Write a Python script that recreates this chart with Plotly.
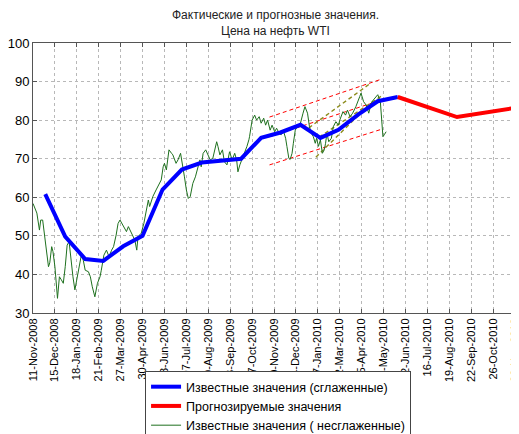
import pandas as pd
import plotly.graph_objects as go

START = pd.Timestamp("2008-11-11")

# --- raw (unsmoothed) WTI prices: days since 11-Nov-2008, price
raw_day = [0, 3, 6, 10, 12, 15, 17, 20, 24, 26, 29, 31, 34, 38, 41, 44, 47, 50, 53, 56, 58, 62, 65, 68,
           72, 75, 78, 81, 86, 89, 92, 96, 100, 104, 106, 110, 114, 118, 122, 125, 129, 132, 135, 140,
           145, 148, 153, 158, 161, 163, 168, 172, 176, 179, 181, 186, 191, 194, 199, 202, 204, 207, 211,
           215, 217, 222, 225, 229, 232, 235, 238, 241, 244, 248, 252, 256, 259, 261, 264, 268, 272, 275,
           279, 285, 287, 290, 294, 297, 301, 305, 309, 313, 316, 318, 321, 325, 328, 332, 335, 336, 340,
           344, 347, 351, 354, 358, 361, 364, 368, 371, 375, 378, 382, 385, 389, 392, 394, 397, 399, 402,
           404, 407, 411, 415, 419, 422, 426, 429, 432, 435, 438, 440, 443, 446, 449, 452, 454, 456, 459,
           463, 466, 470, 474, 476, 481, 485, 488, 492, 496, 501, 507, 509, 513, 517, 521, 525, 528, 532,
           535, 539, 541, 543, 545, 548]
raw_price = [58.4, 57.2, 55.9, 51.5, 54.1, 54.1, 51.5, 48.1, 42.0, 43.0, 47.2, 45.9, 42.0, 33.8, 39.4, 38.6,
             37.7, 42.0, 47.6, 48.5, 45.0, 39.4, 36.0, 38.6, 42.9, 45.0, 43.7, 41.1, 40.7, 39.4, 36.8, 34.2,
             37.7, 39.4, 41.1, 45.0, 46.3, 44.6, 46.3, 47.2, 50.2, 53.2, 54.1, 52.4, 51.1, 52.4, 50.7, 48.9,
             46.3, 49.8, 50.7, 53.2, 56.7, 59.3, 57.6, 60.2, 61.9, 62.8, 64.5, 67.9, 68.8, 67.1, 72.3, 71.4,
             71.0, 68.8, 69.7, 71.4, 68.8, 65.3, 61.9, 59.7, 60.2, 63.6, 65.3, 67.9, 69.7, 67.9, 71.4, 72.3,
             71.0, 69.7, 70.1, 74.4, 73.2, 71.0, 72.3, 69.2, 68.4, 71.8, 69.7, 71.4, 69.7, 66.6, 68.4, 70.1,
             71.0, 73.2, 74.9, 75.7, 80.0, 81.3, 80.0, 80.9, 79.2, 80.5, 78.7, 80.0, 77.4, 78.7, 77.0, 77.9,
             76.6, 76.2, 77.0, 75.3, 73.2, 70.1, 69.8, 71.4, 74.0, 77.4, 78.7, 79.2, 81.8, 83.5, 81.8, 78.3,
             76.6, 75.7, 74.0, 75.3, 73.2, 74.9, 71.4, 72.3, 74.0, 76.6, 74.4, 75.3, 78.3, 79.6, 78.7, 80.0,
             82.2, 81.3, 82.6, 80.9, 81.8, 83.5, 86.1, 87.0, 84.8, 83.9, 81.8, 84.5, 85.2, 86.1, 86.6, 84.8,
             80.9, 75.7, 76.2, 77.0]

# --- smoothed known values (month ends)
smooth_dates = ["2008-11-30", "2008-12-31", "2009-01-31", "2009-02-28", "2009-03-31", "2009-04-30",
                "2009-05-31", "2009-06-30", "2009-07-31", "2009-08-31", "2009-09-30", "2009-10-31",
                "2009-11-30", "2009-12-31", "2010-01-31", "2010-02-28", "2010-03-31", "2010-04-30",
                "2010-05-31"]
smooth_vals = [60.8, 49.8, 44.0, 43.5, 47.3, 50.0, 62.0, 67.2, 69.0, 69.5, 70.0, 75.4,
               76.8, 78.8, 75.4, 77.5, 81.5, 84.9, 86.0]

# --- forecast
fc_dates = ["2010-05-31", "2010-08-31", "2010-11-30"]
fc_vals = [86.0, 80.8, 83.2]

# --- trend channel (red dashed)
ch_dates = ["2009-11-13", "2010-05-07"]
ch_upper = [80.8, 90.7]
ch_mid = [75.7, 85.3]
ch_lower = [68.4, 77.7]

# --- short-term channel (olive dashed)
ol_upper_dates = ["2010-01-13", "2010-04-20"]
ol_upper = [78.0, 89.7]
ol_mid_dates = ["2010-01-29", "2010-05-08"]
ol_mid = [75.6, 86.5]
ol_lower_dates = ["2010-01-24", "2010-04-04"]
ol_lower = [70.4, 81.9]

title_lines = ["Фактические и прогнозные значения.", "Цена на нефть WTI"]

tick_labels = ["11-Nov-2008", "15-Dec-2008", "18-Jan-2009", "21-Feb-2009", "27-Mar-2009", "30-Apr-2009",
               "03-Jun-2009", "07-Jul-2009", "10-Aug-2009", "13-Sep-2009", "17-Oct-2009", "20-Nov-2009",
               "24-Dec-2009", "27-Jan-2010", "02-Mar-2010", "05-Apr-2010", "09-May-2010", "12-Jun-2010",
               "16-Jul-2010", "19-Aug-2010", "22-Sep-2010", "26-Oct-2010", "30-Nov-2010"]

raw_dates = [START + pd.Timedelta(days=d) for d in raw_day]
tick_vals = [pd.to_datetime(t, format="%d-%b-%Y") for t in tick_labels]

FONT = "Liberation Sans, Arial, sans-serif"
fig = go.Figure()

for xs, ys in [(ch_dates, ch_upper), (ch_dates, ch_mid), (ch_dates, ch_lower)]:
    fig.add_trace(go.Scatter(x=xs, y=ys, mode="lines", showlegend=False,
                             line=dict(color="#ff0000", width=1, dash="4px,3px")))
for xs, ys in [(ol_upper_dates, ol_upper), (ol_mid_dates, ol_mid), (ol_lower_dates, ol_lower)]:
    fig.add_trace(go.Scatter(x=xs, y=ys, mode="lines", showlegend=False,
                             line=dict(color="#8c8c1c", width=1.4, dash="4px,3px")))

fig.add_trace(go.Scatter(x=raw_dates, y=raw_price, mode="lines",
                         name="Известные значения ( несглаженные)", legendrank=3,
                         line=dict(color="#1e701e", width=1)))
fig.add_trace(go.Scatter(x=smooth_dates, y=smooth_vals, mode="lines",
                         name="Известные значения (сглаженные)", legendrank=1,
                         line=dict(color="#0000ff", width=4)))
fig.add_trace(go.Scatter(x=fc_dates, y=fc_vals, mode="lines",
                         name="Прогнозируемые значения", legendrank=2,
                         line=dict(color="#ff0000", width=4)))

# title as two centred text lines above the plot
for txt, ypos in zip(title_lines, [1.1035, 1.046]):
    fig.add_annotation(text=txt, xref="paper", yref="paper", x=0.502, y=ypos,
                       xanchor="center", yanchor="middle", showarrow=False,
                       font=dict(size=12, family=FONT, color="#222222"))

# page body has an 8px margin: figure is 511x426 so it fills the 519x434 window
fig.update_layout(
    width=511, height=426,
    margin=dict(l=25, r=3, t=35, b=121, autoexpand=False),
    paper_bgcolor="white", plot_bgcolor="white",
    font=dict(family=FONT, color="#000000"),
    showlegend=True,
    legend=dict(x=0.232, y=-0.215, xanchor="left", yanchor="top",
                bgcolor="white", bordercolor="#444444", borderwidth=1,
                font=dict(size=12.5, family=FONT), tracegroupgap=0,
                itemwidth=30, traceorder="normal"),
)
fig.update_xaxes(type="date", range=[START, pd.Timestamp("2010-11-30 12:00")],
                 tickmode="array", tickvals=tick_vals, ticktext=tick_labels,
                 tickangle=-90, tickfont=dict(size=11, family=FONT), automargin=False,
                 ticklabeloverflow="allow",
                 showgrid=True, gridcolor="#b8b8b8", griddash="dot", gridwidth=1,
                 showline=True, linecolor="#555555", linewidth=1, mirror="ticks",
                 ticks="inside", ticklen=4, tickcolor="#555555", zeroline=False)
fig.update_yaxes(range=[30, 100], dtick=10, tick0=30, automargin=False,
                 tickfont=dict(size=13, family=FONT),
                 showgrid=True, gridcolor="#b8b8b8", griddash="dot", gridwidth=1,
                 showline=True, linecolor="#555555", linewidth=1, mirror="ticks",
                 ticks="inside", ticklen=4, tickcolor="#555555", zeroline=False)

fig.write_html("out.html")
